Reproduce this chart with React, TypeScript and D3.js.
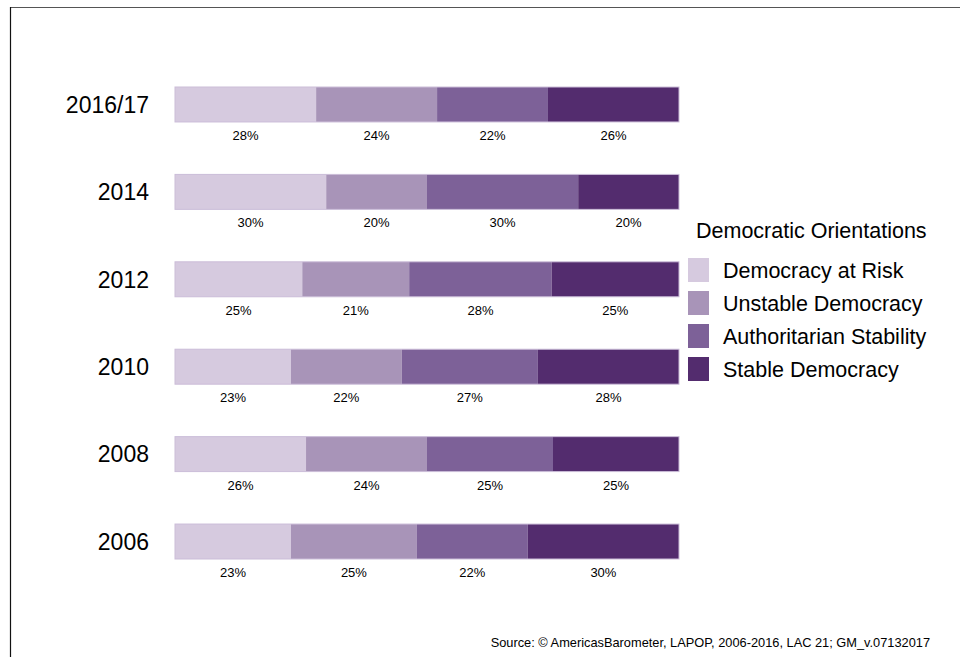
import React from "react";
import * as d3 from "d3";

const years = ["2016/17", "2014", "2012", "2010", "2008", "2006"];
const categories = ["Democracy at Risk", "Unstable Democracy", "Authoritarian Stability", "Stable Democracy"];
const democracyAtRisk = [28, 30, 25, 23, 26, 23];
const unstableDemocracy = [24, 20, 21, 22, 24, 25];
const authoritarianStability = [22, 30, 28, 27, 25, 22];
const stableDemocracy = [26, 20, 25, 28, 25, 30];
const colors = ["#d6cadf", "#a894b8", "#7d6198", "#532c6e"];
const legendTitle = "Democratic Orientations";
const sourceText = "Source: \u00a9 AmericasBarometer, LAPOP, 2006-2016, LAC 21; GM_v.07132017";

const W = 960;
const H = 657;
const FONT = "'Liberation Sans', Arial, sans-serif";

export default function App() {
  const series = [democracyAtRisk, unstableDemocracy, authoritarianStability, stableDemocracy];
  const rows = years.map((year, i) => {
    const vals = series.map((s) => s[i]);
    const total = d3.sum(vals);
    let acc = 0;
    const segs = vals.map((v, k) => {
      const s = { k, v, x0: acc / total, x1: (acc + v) / total };
      acc += v;
      return s;
    });
    return { year, segs };
  });

  const x = d3.scaleLinear().domain([0, 1]).range([175, 679]);
  const y = d3.scaleBand<string>().domain(years).range([87, 559]).paddingInner(0.6).paddingOuter(0);
  const bw = y.bandwidth();

  return (
    <div style={{ position: "fixed", left: 0, top: 0, width: W, height: H, background: "#fff" }}>
      <svg width={W} height={H} style={{ display: "block" }} fontFamily={FONT}>
        <rect x={0} y={0} width={W} height={H} fill="#fff" />
        <line x1={10} y1={7.5} x2={W} y2={7.5} stroke="#555" strokeWidth={1.2} />
        <line x1={10.5} y1={7} x2={10.5} y2={H} stroke="#111" strokeWidth={1.2} />
        {rows.map((r) => {
          const yy = y(r.year)!;
          return (
            <g key={r.year}>
              <text x={149} y={yy + bw / 2} dy="0.36em" textAnchor="end" fontSize={23} fill="#000">
                {r.year}
              </text>
              {r.segs.map((s) => (
                <rect key={s.k} x={x(s.x0)} y={yy} width={x(s.x1) - x(s.x0)} height={bw} fill={colors[s.k]} />
              ))}
              <rect x={x(0)} y={yy} width={x(1) - x(0)} height={bw} fill="none" stroke="#cbbdd8" strokeWidth={1} />
              {r.segs.map((s) => (
                <text key={"t" + s.k} x={(x(s.x0) + x(s.x1)) / 2} y={yy + bw + 18} textAnchor="middle" fontSize={13} fill="#000">
                  {s.v}%
                </text>
              ))}
            </g>
          );
        })}
        <text x={696} y={238} fontSize={21.5} fill="#000">{legendTitle}</text>
        {categories.map((c, i) => (
          <g key={c}>
            <rect x={688} y={258 + i * 33} width={21} height={24} fill={colors[i]} />
            <text x={723} y={278 + i * 33} fontSize={21.5} fill="#000">{c}</text>
          </g>
        ))}
        <text x={930} y={647} textAnchor="end" fontSize={12.8} fill="#000">{sourceText}</text>
      </svg>
    </div>
  );
}
